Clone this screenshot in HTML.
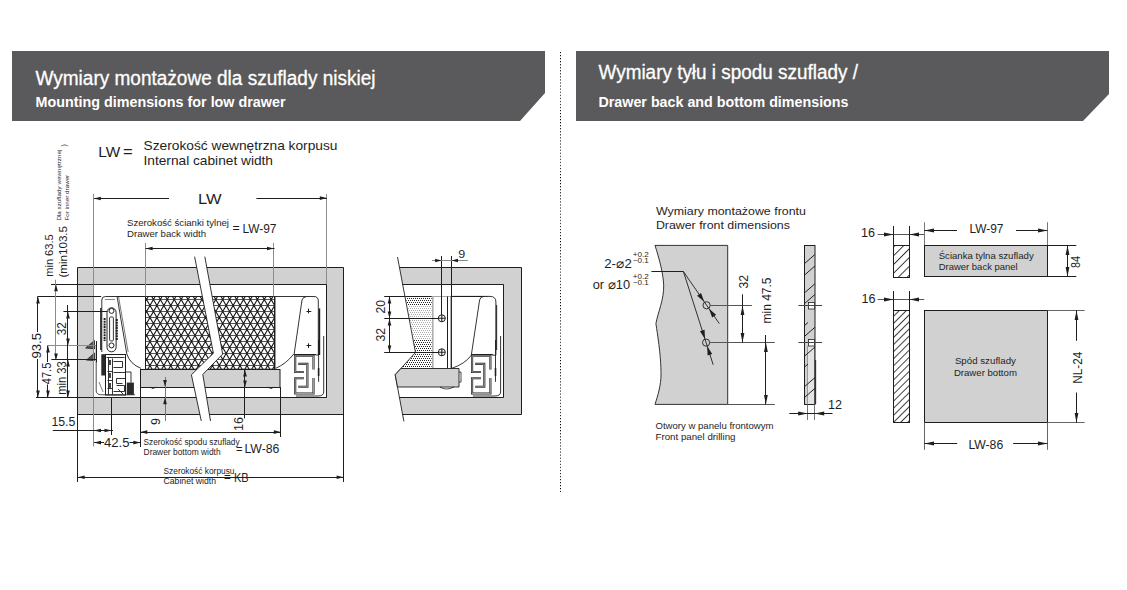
<!DOCTYPE html>
<html><head><meta charset="utf-8"><style>
html,body{margin:0;padding:0;background:#fff;width:1127px;height:590px;overflow:hidden}
svg{display:block;font-family:"Liberation Sans",sans-serif}
</style></head><body>
<svg width="1127" height="590" viewBox="0 0 1127 590">
<defs>
<pattern id="mesh" patternUnits="userSpaceOnUse" width="6.93" height="12" x="146" y="299.5">
<path d="M-1,0 H8 M-1,6 H8 M-1,12 H8 M0,0 L6.93,12 M6.93,0 L0,12 M-0.6,-1.04 L0.6,1.04 M6.33,10.96 L7.53,13.04 M7.53,-1.04 L6.33,1.04 M0.6,10.96 L-0.6,13.04" stroke="#1a1a1a" stroke-width="1" fill="none"/>
</pattern>
<pattern id="hatch" patternUnits="userSpaceOnUse" width="5" height="10" patternTransform="rotate(45)">
<rect width="5" height="10" fill="#fff"/><line x1="0.5" y1="0" x2="0.5" y2="10" stroke="#222" stroke-width="0.85"/>
</pattern>
<pattern id="hatch2" patternUnits="userSpaceOnUse" width="6.2" height="10" patternTransform="rotate(45)">
<rect width="6.2" height="10" fill="#fff"/><line x1="0.5" y1="0" x2="0.5" y2="10" stroke="#222" stroke-width="0.9"/>
</pattern>
</defs>
<polygon points="12,51 545,51 545,93 520,121 12,121" fill="#5a5a5c" stroke="none" stroke-width="0"/>
<polygon points="576,51 1109,51 1109,94 1083,121 576,121" fill="#5a5a5c" stroke="none" stroke-width="0"/>
<text x="35.5" y="84.5" font-size="20" text-anchor="start" fill="#fff" font-weight="normal" textLength="340" lengthAdjust="spacingAndGlyphs" stroke="#fff" stroke-width="0.3">Wymiary montażowe dla szuflady niskiej</text>
<text x="35.5" y="106.5" font-size="15" text-anchor="start" fill="#fff" font-weight="bold" textLength="250" lengthAdjust="spacingAndGlyphs">Mounting dimensions for low drawer</text>
<text x="598.5" y="79" font-size="20" text-anchor="start" fill="#fff" font-weight="normal" textLength="259.5" lengthAdjust="spacingAndGlyphs" stroke="#fff" stroke-width="0.3">Wymiary tyłu i spodu szuflady /</text>
<text x="598.5" y="106.7" font-size="15" text-anchor="start" fill="#fff" font-weight="bold" textLength="250" lengthAdjust="spacingAndGlyphs">Drawer back and bottom dimensions</text>
<pattern id="sepdots" patternUnits="userSpaceOnUse" x="560" y="52" width="1" height="3.05"><rect width="1" height="1.05" fill="#000"/></pattern>
<rect x="560" y="52" width="1" height="440" fill="url(#sepdots)"/>
<text x="98.3" y="156.6" font-size="15.5" text-anchor="start" fill="#1e1e1e" font-weight="normal" textLength="21.9" lengthAdjust="spacingAndGlyphs">LW</text>
<text x="123" y="157.3" font-size="14.5" text-anchor="start" fill="#1e1e1e" font-weight="normal" textLength="9.7" lengthAdjust="spacingAndGlyphs">=</text>
<text x="143.5" y="150.4" font-size="13" text-anchor="start" fill="#1e1e1e" font-weight="normal" textLength="194" lengthAdjust="spacingAndGlyphs">Szerokość wewnętrzna korpusu</text>
<text x="143.5" y="164.6" font-size="13" text-anchor="start" fill="#1e1e1e" font-weight="normal" textLength="129.5" lengthAdjust="spacingAndGlyphs">Internal cabinet width</text>
<text x="52.8" y="276.8" font-size="10.8" text-anchor="start" fill="#1e1e1e" font-weight="normal" textLength="42.5" lengthAdjust="spacingAndGlyphs" transform="rotate(-90 52.8 276.8)">min 63.5</text>
<text x="66.5" y="277.5" font-size="10.8" text-anchor="start" fill="#1e1e1e" font-weight="normal" textLength="51.5" lengthAdjust="spacingAndGlyphs" transform="rotate(-90 66.5 277.5)">(min103.5</text>
<text x="61.2" y="220.6" font-size="5.2" text-anchor="start" fill="#1e1e1e" font-weight="normal" textLength="71" lengthAdjust="spacingAndGlyphs" transform="rotate(-90 61.2 220.6)">Dla szuflady wewnętrznej</text>
<text x="68.8" y="220.6" font-size="5.2" text-anchor="start" fill="#1e1e1e" font-weight="normal" textLength="45.8" lengthAdjust="spacingAndGlyphs" transform="rotate(-90 68.8 220.6)">For inner drawer</text>
<text x="66" y="146.5" font-size="7" text-anchor="start" fill="#1e1e1e" font-weight="normal" transform="rotate(-90 66 146.5)">)</text>
<path d="M77.5,267.5 H343.5 V414.5 H77.5 Z M93.5,284.5 V397.5 H326.5 V284.5 Z" fill="#d1d1d1" fill-rule="evenodd" stroke="#1e1e1e" stroke-width="1"/>
<clipPath id="meshclip"><rect x="145.5" y="296.5" width="129" height="72.7"/></clipPath>
<rect x="145.5" y="296.5" width="129" height="72.7" fill="#fff"/>
<path clip-path="url(#meshclip)" d="M145,293.50 H276 M145,299.50 H276 M145,305.50 H276 M145,311.50 H276 M145,317.50 H276 M145,323.50 H276 M145,329.50 H276 M145,335.50 H276 M145,341.50 H276 M145,347.50 H276 M145,353.50 H276 M145,359.50 H276 M145,365.50 H276 M145,371.50 H276 M145,377.50 H276" stroke="#555" stroke-width="1" fill="none"/>
<path clip-path="url(#meshclip)" d="M2.45,290 L51.53,375 M13.42,290 L-35.65,375 M9.38,290 L58.45,375 M20.35,290 L-28.73,375 M16.31,290 L65.38,375 M27.28,290 L-21.80,375 M23.24,290 L72.31,375 M34.21,290 L-14.87,375 M30.16,290 L79.24,375 M41.13,290 L-7.94,375 M37.09,290 L86.17,375 M48.06,290 L-1.01,375 M44.02,290 L93.10,375 M54.99,290 L5.92,375 M50.95,290 L100.02,375 M61.92,290 L12.84,375 M57.88,290 L106.95,375 M68.85,290 L19.77,375 M64.80,290 L113.88,375 M75.77,290 L26.70,375 M71.73,290 L120.81,375 M82.70,290 L33.63,375 M78.66,290 L127.74,375 M89.63,290 L40.56,375 M85.59,290 L134.66,375 M96.56,290 L47.48,375 M92.52,290 L141.59,375 M103.49,290 L54.41,375 M99.45,290 L148.52,375 M110.42,290 L61.34,375 M106.37,290 L155.45,375 M117.34,290 L68.27,375 M113.30,290 L162.38,375 M124.27,290 L75.20,375 M120.23,290 L169.31,375 M131.20,290 L82.13,375 M127.16,290 L176.23,375 M138.13,290 L89.05,375 M134.09,290 L183.16,375 M145.06,290 L95.98,375 M141.02,290 L190.09,375 M151.98,290 L102.91,375 M147.94,290 L197.02,375 M158.91,290 L109.84,375 M154.87,290 L203.95,375 M165.84,290 L116.77,375 M161.80,290 L210.87,375 M172.77,290 L123.69,375 M168.73,290 L217.80,375 M179.70,290 L130.62,375 M175.66,290 L224.73,375 M186.63,290 L137.55,375 M182.58,290 L231.66,375 M193.55,290 L144.48,375 M189.51,290 L238.59,375 M200.48,290 L151.41,375 M196.44,290 L245.52,375 M207.41,290 L158.34,375 M203.37,290 L252.44,375 M214.34,290 L165.26,375 M210.30,290 L259.37,375 M221.27,290 L172.19,375 M217.23,290 L266.30,375 M228.20,290 L179.12,375 M224.15,290 L273.23,375 M235.12,290 L186.05,375 M231.08,290 L280.16,375 M242.05,290 L192.98,375 M238.01,290 L287.08,375 M248.98,290 L199.90,375 M244.94,290 L294.01,375 M255.91,290 L206.83,375 M251.87,290 L300.94,375 M262.84,290 L213.76,375 M258.79,290 L307.87,375 M269.76,290 L220.69,375 M265.72,290 L314.80,375 M276.69,290 L227.62,375 M272.65,290 L321.73,375 M283.62,290 L234.55,375 M279.58,290 L328.65,375 M290.55,290 L241.47,375 M286.51,290 L335.58,375 M297.48,290 L248.40,375 M293.44,290 L342.51,375 M304.41,290 L255.33,375 M300.36,290 L349.44,375 M311.33,290 L262.26,375 M307.29,290 L356.37,375 M318.26,290 L269.19,375 M314.22,290 L363.30,375 M325.19,290 L276.12,375 M321.15,290 L370.22,375 M332.12,290 L283.04,375 M328.08,290 L377.15,375 M339.05,290 L289.97,375 M335.00,290 L384.08,375 M345.97,290 L296.90,375 M341.93,290 L391.01,375 M352.90,290 L303.83,375 M348.86,290 L397.94,375 M359.83,290 L310.76,375 M355.79,290 L404.86,375 M366.76,290 L317.68,375 M362.72,290 L411.79,375 M373.69,290 L324.61,375 M369.65,290 L418.72,375 M380.62,290 L331.54,375 M376.57,290 L425.65,375 M387.54,290 L338.47,375 M383.50,290 L432.58,375 M394.47,290 L345.40,375 M390.43,290 L439.51,375 M401.40,290 L352.33,375 M397.36,290 L446.43,375 M408.33,290 L359.25,375 M404.29,290 L453.36,375 M415.26,290 L366.18,375 M411.22,290 L460.29,375 M422.18,290 L373.11,375" stroke="#1a1a1a" stroke-width="1.1" fill="none"/>
<rect x="145.5" y="296.5" width="129" height="72.7" fill="none" stroke="#1e1e1e" stroke-width="1"/>
<line x1="275.5" y1="297" x2="275.5" y2="368" stroke="#999" stroke-width="1"/>
<rect x="140.5" y="369.5" width="139.5" height="18" fill="#d1d1d1" stroke="#1e1e1e" stroke-width="1"/>
<path d="M150,387.1 q3,3 6,0 M268,387.1 q3,3 6,0" stroke="#1e1e1e" stroke-width="0.8" fill="none"/>
<path d="M274.5,296.5 H314 Q318.3,296.5 318.3,301 V355 H294 L302,300 Q303,296.8 306,296.8" fill="#fff" stroke="#1e1e1e" stroke-width="0.9"/>
<path d="M319.4,308.4 V355" stroke="#1e1e1e" stroke-width="1.6"/>
<path d="M275.3,368.5 Q286,364 293.6,354.2" stroke="#1e1e1e" stroke-width="0.9" fill="none"/>
<line x1="306.5" y1="311.5" x2="311.3" y2="311.5" stroke="#1e1e1e" stroke-width="1"/>
<line x1="308.5" y1="308.6" x2="308.5" y2="313.4" stroke="#1e1e1e" stroke-width="1"/>
<line x1="306.5" y1="345.5" x2="311.3" y2="345.5" stroke="#1e1e1e" stroke-width="1"/>
<line x1="308.5" y1="343.3" x2="308.5" y2="348.09999999999997" stroke="#1e1e1e" stroke-width="1"/>
<g transform="translate(0,0)">
<rect x="294.2" y="354.3" width="21.3" height="41" fill="#fff" stroke="none"/>
<line x1="294.2" y1="354.5" x2="316" y2="354.5" stroke="#1e1e1e" stroke-width="1"/>
<path d="M304,372 H295.2 V355.8 H313.5 V369.5 M313.5,378 V393.5 H295.2 V378.2 H304" stroke="#1e1e1e" stroke-width="2.1" fill="none"/>
<path d="M304,372 H295.2 V355.8 H313.5 V369.5 M313.5,378 V393.5 H295.2 V378.2 H304" stroke="#bbb" stroke-width="0.8" fill="none"/>
<path d="M298.2,363.9 H307.4 V386.8 H298.2" stroke="#1e1e1e" stroke-width="2.1" fill="none"/>
<path d="M298.2,363.9 H307.4 V386.8 H298.2" stroke="#bbb" stroke-width="0.8" fill="none"/>
<path d="M318.6,340 V381.8 M323.7,336 V392 Q323.7,396 318,396 H296" stroke="#1e1e1e" stroke-width="0.9" fill="none"/>
<path d="M317.8,368 l1.6,0 v8 h-1.6z" fill="#222"/>
</g>
<line x1="326.5" y1="284.2" x2="326.5" y2="397.3" stroke="#1e1e1e" stroke-width="1"/>
<path d="M101.8,352 V300 Q101.8,296.5 105.5,296.5 H117.1 L126.8,354 Q130,364 141,368.4" fill="#fff" stroke="#1e1e1e" stroke-width="0.9"/>
<path d="M118.6,297 L128.2,352" stroke="#444" stroke-width="0.7" fill="none"/>
<line x1="105" y1="299.5" x2="115" y2="299.5" stroke="#888" stroke-width="1"/>
<line x1="117.1" y1="296.5" x2="145.8" y2="296.5" stroke="#1e1e1e" stroke-width="1"/>
<line x1="100.9" y1="308" x2="100.9" y2="350" stroke="#1e1e1e" stroke-width="1.5"/>
<rect x="107" y="307.8" width="9.1" height="44" rx="4.5" fill="#fff" stroke="#1e1e1e" stroke-width="1"/>
<circle cx="111.5" cy="310.9" r="2.5" fill="#fff" stroke="#1e1e1e" stroke-width="1"/>
<circle cx="111.5" cy="345.4" r="2.5" fill="#fff" stroke="#1e1e1e" stroke-width="1"/>
<rect x="109.6" y="317" width="3.8" height="23.9" rx="1" fill="#fff" stroke="#1e1e1e" stroke-width="0.9"/>
<path d="M104.6,318 V341 M116.8,319 V340" stroke="#222" stroke-width="2" stroke-dasharray="2 0.7"/>
<path d="M101.3,354.2 H107.4 V375.5 H101.3 Z" fill="#2a2a2a"/>
<rect x="105.5" y="354.5" width="20" height="40.5" fill="#fff" stroke="#1e1e1e" stroke-width="1"/>
<path d="M106.5,357.5 H124.5 M108.5,357.5 V394.5 M112.5,358.5 V394.5 M113.5,361.5 H122.5 V367.5 H113.5 M113.5,372.5 H125.5 V378.5 H116.5 V383.5 H122.5 M116.5,385.5 H124.5 V391.5 H113.5 M107.5,371.5 H112.5 M107.5,380.5 H112.5 M107.5,388.5 H112.5" stroke="#1e1e1e" stroke-width="0.9" fill="none"/>
<path d="M109,360 h2 v5 h-2z M109,373 h2 v5 h-2z M109,383 h2 v5 h-2z" fill="#444"/>
<rect x="126.8" y="382.6" width="7.1" height="12.2" fill="#2a2a2a"/>
<path d="M125.7,372 H131 V382.6 M118,389 L123,394" stroke="#1e1e1e" stroke-width="0.9" fill="none"/>
<path d="M96.2,346 V391 Q96.5,394.8 101.3,394.8 H135" stroke="#1e1e1e" stroke-width="0.8" fill="none"/>
<path d="M99,382 L103,392" stroke="#444" stroke-width="0.7" fill="none"/>
<path d="M85.6,348 L94.5,340.5 V348.8 Z M86.5,360 L94.5,353 V360.6 Z" fill="#555" stroke="#1e1e1e" stroke-width="0.8"/>
<line x1="96.5" y1="341" x2="96.5" y2="362.4" stroke="#1e1e1e" stroke-width="1"/>
<polygon points="194.6,256.6 213.4,353.2 191.4,374.8 201.3,421 210.5,421 202.8,374.4 222.7,354.1 204.8,256.6" fill="#fff" stroke="none"/>
<polyline points="194.6,256.6 213.4,353.2 191.4,374.8 201.3,421" fill="none" stroke="#1e1e1e" stroke-width="0.9"/>
<polyline points="204.8,256.6 222.7,354.1 202.8,374.4 210.5,421" fill="none" stroke="#1e1e1e" stroke-width="0.9"/>
<line x1="93.5" y1="194" x2="93.5" y2="446.5" stroke="#8c8c8c" stroke-width="1"/>
<line x1="326.5" y1="194" x2="326.5" y2="284.2" stroke="#8c8c8c" stroke-width="1"/>
<line x1="94" y1="198.5" x2="169" y2="198.5" stroke="#1e1e1e" stroke-width="1"/>
<line x1="256.4" y1="198.5" x2="326.8" y2="198.5" stroke="#1e1e1e" stroke-width="1"/>
<polygon points="93.80,198.50 100.80,196.70 100.80,200.30" fill="#1e1e1e"/>
<polygon points="326.80,198.10 319.80,199.90 319.80,196.30" fill="#1e1e1e"/>
<text x="198" y="204.4" font-size="14.5" text-anchor="start" fill="#1e1e1e" font-weight="normal" textLength="23.5" lengthAdjust="spacingAndGlyphs">LW</text>
<text x="127" y="226" font-size="9.6" text-anchor="start" fill="#1e1e1e" font-weight="normal" textLength="102" lengthAdjust="spacingAndGlyphs">Szerokość ścianki tylnej</text>
<text x="127" y="237.3" font-size="9.6" text-anchor="start" fill="#1e1e1e" font-weight="normal" textLength="79" lengthAdjust="spacingAndGlyphs">Drawer back width</text>
<text x="232.6" y="231.6" font-size="11" text-anchor="start" fill="#1e1e1e" font-weight="normal" textLength="7.2" lengthAdjust="spacingAndGlyphs">=</text>
<text x="242.5" y="232.6" font-size="12.5" text-anchor="start" fill="#1e1e1e" font-weight="normal" textLength="34" lengthAdjust="spacingAndGlyphs">LW-97</text>
<line x1="145.5" y1="243" x2="145.5" y2="296.4" stroke="#8c8c8c" stroke-width="1"/>
<line x1="273.5" y1="243" x2="273.5" y2="296.4" stroke="#8c8c8c" stroke-width="1"/>
<line x1="145.6" y1="248.5" x2="274.5" y2="248.5" stroke="#1e1e1e" stroke-width="1"/>
<polygon points="145.60,248.50 152.60,246.70 152.60,250.30" fill="#1e1e1e"/>
<polygon points="274.00,248.50 267.00,250.30 267.00,246.70" fill="#1e1e1e"/>
<line x1="51" y1="284.5" x2="93.5" y2="284.5" stroke="#1e1e1e" stroke-width="1"/>
<line x1="38" y1="296.5" x2="101.2" y2="296.5" stroke="#1e1e1e" stroke-width="1"/>
<line x1="63.4" y1="311.5" x2="107.3" y2="311.5" stroke="#1e1e1e" stroke-width="1"/>
<line x1="47.5" y1="345.5" x2="96" y2="345.5" stroke="#8c8c8c" stroke-width="1"/>
<line x1="51.3" y1="359.5" x2="96" y2="359.5" stroke="#1e1e1e" stroke-width="1"/>
<line x1="36" y1="397.5" x2="93.5" y2="397.5" stroke="#1e1e1e" stroke-width="1"/>
<line x1="37.5" y1="296.3" x2="37.5" y2="332" stroke="#1e1e1e" stroke-width="1"/>
<line x1="37.5" y1="359" x2="37.5" y2="397.2" stroke="#1e1e1e" stroke-width="1"/>
<polygon points="38.00,296.50 39.80,303.50 36.20,303.50" fill="#1e1e1e"/>
<polygon points="38.00,397.50 36.20,390.50 39.80,390.50" fill="#1e1e1e"/>
<text x="41.4" y="358.5" font-size="12.5" text-anchor="start" fill="#1e1e1e" font-weight="normal" textLength="25.5" lengthAdjust="spacingAndGlyphs" transform="rotate(-90 41.4 358.5)">93.5</text>
<line x1="47.5" y1="345.7" x2="47.5" y2="362" stroke="#1e1e1e" stroke-width="1"/>
<line x1="47.5" y1="384.5" x2="47.5" y2="397.2" stroke="#1e1e1e" stroke-width="1"/>
<polygon points="48.00,345.50 49.80,352.50 46.20,352.50" fill="#1e1e1e"/>
<polygon points="48.00,397.50 46.20,390.50 49.80,390.50" fill="#1e1e1e"/>
<text x="51.3" y="384.2" font-size="12.5" text-anchor="start" fill="#1e1e1e" font-weight="normal" textLength="21.5" lengthAdjust="spacingAndGlyphs" transform="rotate(-90 51.3 384.2)">47.5</text>
<line x1="55.5" y1="279.7" x2="55.5" y2="359" stroke="#8c8c8c" stroke-width="1"/>
<polygon points="56.00,284.30 57.80,291.30 54.20,291.30" fill="#1e1e1e"/>
<polygon points="56.00,360.50 54.20,353.50 57.80,353.50" fill="#1e1e1e"/>
<line x1="67.5" y1="305" x2="67.5" y2="397.2" stroke="#1e1e1e" stroke-width="1"/>
<polygon points="68.00,311.50 69.80,318.50 66.20,318.50" fill="#1e1e1e"/>
<polygon points="68.00,345.50 66.20,338.50 69.80,338.50" fill="#1e1e1e"/>
<polygon points="68.00,359.50 69.80,366.50 66.20,366.50" fill="#1e1e1e"/>
<polygon points="68.00,397.50 66.20,390.50 69.80,390.50" fill="#1e1e1e"/>
<text x="66.5" y="335.3" font-size="12.5" text-anchor="start" fill="#1e1e1e" font-weight="normal" textLength="13" lengthAdjust="spacingAndGlyphs" transform="rotate(-90 66.5 335.3)">32</text>
<text x="65.8" y="394.8" font-size="12.5" text-anchor="start" fill="#1e1e1e" font-weight="normal" textLength="33.5" lengthAdjust="spacingAndGlyphs" transform="rotate(-90 65.8 394.8)">min 33</text>
<line x1="77.5" y1="413.6" x2="77.5" y2="482" stroke="#1e1e1e" stroke-width="1"/>
<line x1="343.5" y1="413.6" x2="343.5" y2="482" stroke="#1e1e1e" stroke-width="1"/>
<line x1="111.5" y1="397.2" x2="111.5" y2="435" stroke="#1e1e1e" stroke-width="1"/>
<line x1="140.5" y1="387.1" x2="140.5" y2="447" stroke="#1e1e1e" stroke-width="1"/>
<line x1="280.5" y1="387.1" x2="280.5" y2="437" stroke="#1e1e1e" stroke-width="1"/>
<line x1="165.5" y1="377" x2="165.5" y2="421" stroke="#777" stroke-width="1"/>
<polygon points="165.00,387.10 163.20,380.10 166.80,380.10" fill="#1e1e1e"/>
<polygon points="165.00,397.20 166.80,404.20 163.20,404.20" fill="#1e1e1e"/>
<line x1="244.5" y1="369.5" x2="244.5" y2="418.4" stroke="#1e1e1e" stroke-width="1"/>
<polygon points="245.00,369.50 246.80,376.50 243.20,376.50" fill="#1e1e1e"/>
<polygon points="245.00,387.50 243.20,380.50 246.80,380.50" fill="#1e1e1e"/>
<text x="160" y="425" font-size="12.5" text-anchor="start" fill="#1e1e1e" font-weight="normal" transform="rotate(-90 160 425)">9</text>
<text x="242.8" y="431" font-size="12.5" text-anchor="start" fill="#1e1e1e" font-weight="normal" textLength="14" lengthAdjust="spacingAndGlyphs" transform="rotate(-90 242.8 431)">16</text>
<text x="51.4" y="426.4" font-size="12.5" text-anchor="start" fill="#1e1e1e" font-weight="normal" textLength="24" lengthAdjust="spacingAndGlyphs">15.5</text>
<line x1="52.8" y1="430.5" x2="113" y2="430.5" stroke="#1e1e1e" stroke-width="1"/>
<polygon points="94.00,430.50 101.00,428.70 101.00,432.30" fill="#1e1e1e"/>
<polygon points="111.50,430.50 104.50,432.30 104.50,428.70" fill="#1e1e1e"/>
<line x1="94" y1="442.5" x2="104" y2="442.5" stroke="#1e1e1e" stroke-width="1"/>
<line x1="129.5" y1="442.5" x2="140.3" y2="442.5" stroke="#1e1e1e" stroke-width="1"/>
<polygon points="94.00,442.60 101.00,440.80 101.00,444.40" fill="#1e1e1e"/>
<polygon points="140.30,442.60 133.30,444.40 133.30,440.80" fill="#1e1e1e"/>
<text x="104" y="446.5" font-size="12.5" text-anchor="start" fill="#1e1e1e" font-weight="normal" textLength="25.5" lengthAdjust="spacingAndGlyphs">42.5</text>
<line x1="140.3" y1="432.5" x2="280.8" y2="432.5" stroke="#1e1e1e" stroke-width="1"/>
<polygon points="140.30,432.10 147.30,430.30 147.30,433.90" fill="#1e1e1e"/>
<polygon points="280.80,432.10 273.80,433.90 273.80,430.30" fill="#1e1e1e"/>
<text x="143.6" y="445.4" font-size="9.6" text-anchor="start" fill="#1e1e1e" font-weight="normal" textLength="96" lengthAdjust="spacingAndGlyphs">Szerokość spodu szuflady</text>
<text x="143.6" y="454.5" font-size="9.6" text-anchor="start" fill="#1e1e1e" font-weight="normal" textLength="77" lengthAdjust="spacingAndGlyphs">Drawer bottom width</text>
<text x="236" y="452.5" font-size="11" text-anchor="start" fill="#1e1e1e" font-weight="normal" textLength="6.5" lengthAdjust="spacingAndGlyphs">=</text>
<text x="244.4" y="453.1" font-size="12.5" text-anchor="start" fill="#1e1e1e" font-weight="normal" textLength="35" lengthAdjust="spacingAndGlyphs">LW-86</text>
<line x1="77.7" y1="477.5" x2="343.6" y2="477.5" stroke="#1e1e1e" stroke-width="1"/>
<polygon points="77.70,477.20 84.70,475.40 84.70,479.00" fill="#1e1e1e"/>
<polygon points="343.60,477.20 336.60,479.00 336.60,475.40" fill="#1e1e1e"/>
<text x="163.5" y="474.4" font-size="9.6" text-anchor="start" fill="#1e1e1e" font-weight="normal" textLength="71" lengthAdjust="spacingAndGlyphs">Szerokość korpusu</text>
<text x="163.5" y="483.8" font-size="9.6" text-anchor="start" fill="#1e1e1e" font-weight="normal" textLength="52.5" lengthAdjust="spacingAndGlyphs">Cabinet width</text>
<text x="224" y="481.2" font-size="11" text-anchor="start" fill="#1e1e1e" font-weight="normal" textLength="6.8" lengthAdjust="spacingAndGlyphs">=</text>
<text x="234" y="481.8" font-size="12.5" text-anchor="start" fill="#1e1e1e" font-weight="normal" textLength="14.7" lengthAdjust="spacingAndGlyphs">KB</text>
<path d="M399.4,267.5 H521.5 V414.5 H402.6 L395.2,374.7 L415.5,352.5 Z M402.6,284.5 L415.5,352.5 L395.2,374.7 L399.45,397.5 H503.5 V284.5 Z" fill="#d1d1d1" fill-rule="evenodd" stroke="none"/>
<path d="M399.4,267.5 H521.5 V414.5 H402.6 M402.6,284.5 H503.5 V397.5 H399.45" stroke="#1e1e1e" stroke-width="1" fill="none"/>
<polyline points="397.5,257 415.5,352.5 395.2,374.7 403.9,421.4" fill="none" stroke="#1e1e1e" stroke-width="0.9"/>
<pattern id="dotsD" patternUnits="userSpaceOnUse" width="2" height="4"><rect x="0" y="0" width="1" height="1" fill="#222"/><rect x="1" y="2" width="1" height="1" fill="#222"/></pattern>
<pattern id="dotsL" patternUnits="userSpaceOnUse" width="2" height="4"><rect x="0" y="0" width="1" height="1" fill="#aaa"/><rect x="1" y="2" width="1" height="1" fill="#aaa"/></pattern>
<clipPath id="dotclip"><polygon points="405.8,296.7 432.2,296.7 432.2,368.5 400.9,368.5 415.7,352.5"/></clipPath>
<g clip-path="url(#dotclip)"><rect x="395" y="296" width="40" height="9" fill="url(#dotsD)"/><rect x="395" y="305" width="40" height="35" fill="url(#dotsL)"/><rect x="395" y="340" width="40" height="29" fill="url(#dotsD)"/></g>
<line x1="405.8" y1="296.5" x2="488" y2="296.5" stroke="#1e1e1e" stroke-width="1"/>
<rect x="431.6" y="296.4" width="19.7" height="72.1" fill="#fff" stroke="none"/>
<line x1="432.8" y1="296.4" x2="432.8" y2="368.5" stroke="#aaa" stroke-width="1.5"/>
<line x1="447.5" y1="296.4" x2="447.5" y2="368.5" stroke="#1e1e1e" stroke-width="1"/>
<line x1="451.3" y1="296.4" x2="451.3" y2="368.5" stroke="#1e1e1e" stroke-width="1.3"/>
<polygon points="400.9,368.5 459,368.5 459,387 397.5,387 395.2,374.7" fill="#d1d1d1" stroke="#1e1e1e" stroke-width="0.9"/>
<path d="M459,372 h2 v10 h-2 M440,387 q6,4 14,0" stroke="#1e1e1e" stroke-width="0.8" fill="none"/>
<path d="M451.3,296.4 H490 Q495.9,296.4 495.9,302 V355.2 H471.3 L479.6,300 Q480.5,296.4 484,296.4" fill="#fff" stroke="#1e1e1e" stroke-width="0.9"/>
<path d="M451.3,368.5 Q465,364 471.3,355.2" stroke="#1e1e1e" stroke-width="0.9" fill="none"/>
<line x1="496.5" y1="305" x2="496.5" y2="350" stroke="#333" stroke-width="1.3"/>
<g transform="translate(176.9,0)">
<rect x="294.2" y="354.3" width="21.3" height="41" fill="#fff" stroke="none"/>
<line x1="294.2" y1="354.5" x2="316" y2="354.5" stroke="#1e1e1e" stroke-width="1"/>
<path d="M304,372 H295.2 V355.8 H313.5 V369.5 M313.5,378 V393.5 H295.2 V378.2 H304" stroke="#1e1e1e" stroke-width="2.1" fill="none"/>
<path d="M304,372 H295.2 V355.8 H313.5 V369.5 M313.5,378 V393.5 H295.2 V378.2 H304" stroke="#bbb" stroke-width="0.8" fill="none"/>
<path d="M298.2,363.9 H307.4 V386.8 H298.2" stroke="#1e1e1e" stroke-width="2.1" fill="none"/>
<path d="M298.2,363.9 H307.4 V386.8 H298.2" stroke="#bbb" stroke-width="0.8" fill="none"/>
<path d="M318.6,340 V381.8 M323.7,336 V392 Q323.7,396 318,396 H296" stroke="#1e1e1e" stroke-width="0.9" fill="none"/>
<path d="M317.8,368 l1.6,0 v8 h-1.6z" fill="#222"/>
</g>
<circle cx="441.8" cy="318.3" r="3.5" fill="#fff" stroke="#1e1e1e" stroke-width="1"/>
<path d="M438.3,318.3 H445.3 M441.8,314.8 V321.8" stroke="#1e1e1e" stroke-width="1.1"/>
<circle cx="441.8" cy="352.3" r="3.5" fill="#fff" stroke="#1e1e1e" stroke-width="1"/>
<path d="M438.3,352.3 H445.3 M441.8,348.8 V355.8" stroke="#1e1e1e" stroke-width="1.1"/>
<line x1="441.5" y1="256" x2="441.5" y2="314.8" stroke="#1e1e1e" stroke-width="1"/>
<line x1="451.5" y1="256" x2="451.5" y2="296.4" stroke="#1e1e1e" stroke-width="1"/>
<line x1="432" y1="260.5" x2="467.9" y2="260.5" stroke="#888" stroke-width="1"/>
<polygon points="441.60,260.50 435.10,262.20 435.10,258.80" fill="#1e1e1e"/>
<polygon points="451.50,260.50 458.00,258.80 458.00,262.20" fill="#1e1e1e"/>
<text x="458.3" y="258" font-size="11.5" text-anchor="start" fill="#1e1e1e" font-weight="normal" textLength="7" lengthAdjust="spacingAndGlyphs">9</text>
<line x1="384.2" y1="296.5" x2="405.8" y2="296.5" stroke="#1e1e1e" stroke-width="1"/>
<line x1="384.2" y1="318.5" x2="438.5" y2="318.5" stroke="#1e1e1e" stroke-width="1"/>
<line x1="384.2" y1="352.5" x2="438.5" y2="352.5" stroke="#1e1e1e" stroke-width="1"/>
<line x1="389.5" y1="296.4" x2="389.5" y2="352.3" stroke="#1e1e1e" stroke-width="1"/>
<polygon points="389.50,296.50 391.30,303.50 387.70,303.50" fill="#1e1e1e"/>
<polygon points="389.50,318.50 387.70,311.50 391.30,311.50" fill="#1e1e1e"/>
<polygon points="389.50,318.50 391.30,325.50 387.70,325.50" fill="#1e1e1e"/>
<polygon points="389.50,352.50 387.70,345.50 391.30,345.50" fill="#1e1e1e"/>
<text x="384.8" y="313.5" font-size="12.5" text-anchor="start" fill="#1e1e1e" font-weight="normal" textLength="13.5" lengthAdjust="spacingAndGlyphs" transform="rotate(-90 384.8 313.5)">20</text>
<text x="384.8" y="341.5" font-size="12.5" text-anchor="start" fill="#1e1e1e" font-weight="normal" textLength="13.5" lengthAdjust="spacingAndGlyphs" transform="rotate(-90 384.8 341.5)">32</text>
<text x="655.9" y="214.9" font-size="11" text-anchor="start" fill="#1e1e1e" font-weight="normal" textLength="150" lengthAdjust="spacingAndGlyphs">Wymiary montażowe frontu</text>
<text x="655.9" y="228.8" font-size="11" text-anchor="start" fill="#1e1e1e" font-weight="normal" textLength="134" lengthAdjust="spacingAndGlyphs">Drawer front dimensions</text>
<path d="M655,245.4 H727.7 V404.4 H655 C658,395 661,385 661,375 C661,362 660,350 655.9,323.6 C658,312 664,300 663.7,285 C663,272 659,258 655,245.4 Z" fill="#d1d1d1" stroke="#1e1e1e" stroke-width="0.9"/>
<text x="604.2" y="267.6" font-size="12.5" text-anchor="start" fill="#1e1e1e" font-weight="normal" textLength="27.6" lengthAdjust="spacingAndGlyphs">2-⌀2</text>
<text x="632.7" y="256.6" font-size="7" text-anchor="start" fill="#1e1e1e" font-weight="normal" textLength="16" lengthAdjust="spacingAndGlyphs">+0.2</text>
<text x="632.7" y="262.8" font-size="7" text-anchor="start" fill="#1e1e1e" font-weight="normal" textLength="16" lengthAdjust="spacingAndGlyphs">−0.1</text>
<text x="592.7" y="289.3" font-size="12.5" text-anchor="start" fill="#1e1e1e" font-weight="normal" textLength="37.4" lengthAdjust="spacingAndGlyphs">or  ⌀10</text>
<text x="632.7" y="278.8" font-size="7" text-anchor="start" fill="#1e1e1e" font-weight="normal" textLength="16" lengthAdjust="spacingAndGlyphs">+0.2</text>
<text x="632.7" y="285" font-size="7" text-anchor="start" fill="#1e1e1e" font-weight="normal" textLength="16" lengthAdjust="spacingAndGlyphs">−0.1</text>
<line x1="651.4" y1="271.5" x2="683.4" y2="271.5" stroke="#1e1e1e" stroke-width="1"/>
<line x1="683.4" y1="271.5" x2="719.3" y2="323.6" stroke="#1e1e1e" stroke-width="0.9"/>
<line x1="683.4" y1="271.5" x2="713.2" y2="364.8" stroke="#1e1e1e" stroke-width="0.9"/>
<circle cx="706.6" cy="305.3" r="3.6" fill="none" stroke="#1e1e1e" stroke-width="0.9"/>
<circle cx="706.1" cy="342.6" r="3.6" fill="none" stroke="#1e1e1e" stroke-width="0.9"/>
<polygon points="704.20,301.80 697.10,295.77 701.05,293.03" fill="#1e1e1e"/>
<polygon points="709.00,308.80 716.10,314.83 712.15,317.57" fill="#1e1e1e"/>
<polygon points="705.00,339.00 699.98,331.16 704.55,329.70" fill="#1e1e1e"/>
<polygon points="707.20,346.20 712.22,354.04 707.65,355.50" fill="#1e1e1e"/>
<line x1="710" y1="305.5" x2="751.9" y2="305.5" stroke="#555" stroke-width="1"/>
<line x1="710" y1="342.5" x2="774.8" y2="342.5" stroke="#555" stroke-width="1"/>
<line x1="727.7" y1="404.5" x2="774.8" y2="404.5" stroke="#555" stroke-width="1"/>
<line x1="742.5" y1="294.3" x2="742.5" y2="342.6" stroke="#1e1e1e" stroke-width="1"/>
<polygon points="742.50,305.50 744.40,315.00 740.60,315.00" fill="#1e1e1e"/>
<polygon points="742.50,342.50 740.60,333.00 744.40,333.00" fill="#1e1e1e"/>
<text x="748" y="288.5" font-size="12.5" text-anchor="start" fill="#1e1e1e" font-weight="normal" textLength="13.5" lengthAdjust="spacingAndGlyphs" transform="rotate(-90 748 288.5)">32</text>
<line x1="765.5" y1="335" x2="765.5" y2="404.4" stroke="#1e1e1e" stroke-width="1"/>
<polygon points="765.90,342.50 767.80,352.00 764.00,352.00" fill="#1e1e1e"/>
<polygon points="765.90,404.50 764.00,395.00 767.80,395.00" fill="#1e1e1e"/>
<text x="770.5" y="323.5" font-size="12.5" text-anchor="start" fill="#1e1e1e" font-weight="normal" textLength="46" lengthAdjust="spacingAndGlyphs" transform="rotate(-90 770.5 323.5)">min 47.5</text>
<text x="655.5" y="428.5" font-size="9.6" text-anchor="start" fill="#1e1e1e" font-weight="normal" textLength="118" lengthAdjust="spacingAndGlyphs">Otwory w panelu frontowym</text>
<text x="655.5" y="439.5" font-size="9.6" text-anchor="start" fill="#1e1e1e" font-weight="normal" textLength="80" lengthAdjust="spacingAndGlyphs">Front panel drilling</text>
<rect x="804.5" y="245.5" width="10.5" height="159" fill="#d1d1d1" stroke="none"/>
<rect x="808" y="346" width="6" height="58" fill="#e4e4e4" stroke="none"/>
<line x1="807.5" y1="346" x2="807.5" y2="404" stroke="#999" stroke-width="1"/>
<line x1="814.5" y1="346" x2="814.5" y2="404" stroke="#999" stroke-width="1"/>
<clipPath id="sec1"><rect x="804.5" y="245.5" width="10.5" height="159"/></clipPath>
<g clip-path="url(#sec1)" stroke="#222" stroke-width="1"><line x1="804" y1="264" x2="815.5" y2="254"/><line x1="804" y1="275.5" x2="815.5" y2="265.5"/><line x1="804" y1="293.3" x2="815.5" y2="283.3"/><line x1="804" y1="304" x2="815.5" y2="294"/><line x1="804" y1="336.8" x2="815.5" y2="326.8"/><line x1="804" y1="356.6" x2="815.5" y2="346.6"/><line x1="804" y1="387.1" x2="815.5" y2="377.1"/><line x1="804" y1="397.9" x2="815.5" y2="387.9"/><line x1="804" y1="326" x2="808" y2="322.5"/><line x1="804" y1="367.4" x2="808" y2="364"/></g>
<rect x="804.5" y="245.5" width="10.5" height="159" fill="none" stroke="#1e1e1e" stroke-width="1"/>
<line x1="815.5" y1="360" x2="815.5" y2="404" stroke="#333" stroke-width="1.3"/>
<rect x="808.5" y="302.5" width="6" height="6.5" fill="#fff" stroke="#1e1e1e" stroke-width="0.8"/>
<rect x="808.5" y="339.5" width="6" height="6.5" fill="#fff" stroke="#1e1e1e" stroke-width="0.8"/>
<line x1="807.5" y1="404.5" x2="807.5" y2="420" stroke="#777" stroke-width="1"/>
<line x1="814.5" y1="404.5" x2="814.5" y2="420" stroke="#777" stroke-width="1"/>
<line x1="798.4" y1="305.5" x2="822" y2="305.5" stroke="#444" stroke-width="1"/>
<line x1="798.4" y1="342.5" x2="822" y2="342.5" stroke="#444" stroke-width="1"/>
<line x1="789.3" y1="413.5" x2="832.5" y2="413.5" stroke="#1e1e1e" stroke-width="1"/>
<polygon points="807.60,413.50 798.10,415.40 798.10,411.60" fill="#1e1e1e"/>
<polygon points="814.70,413.50 824.20,411.60 824.20,415.40" fill="#1e1e1e"/>
<text x="828" y="408.5" font-size="12.5" text-anchor="start" fill="#1e1e1e" font-weight="normal" textLength="14" lengthAdjust="spacingAndGlyphs">12</text>
<rect x="893.5" y="245.5" width="16" height="32" fill="url(#hatch2)" stroke="#1e1e1e" stroke-width="1"/>
<rect x="924.5" y="245.5" width="123" height="31" fill="#d1d1d1" stroke="#1e1e1e" stroke-width="1"/>
<text x="861" y="237" font-size="12.5" text-anchor="start" fill="#1e1e1e" font-weight="normal" textLength="14" lengthAdjust="spacingAndGlyphs">16</text>
<line x1="877.7" y1="234.5" x2="924.3" y2="234.5" stroke="#555" stroke-width="1"/>
<polygon points="893.50,234.50 884.00,236.40 884.00,232.60" fill="#1e1e1e"/>
<polygon points="909.50,234.50 919.00,232.60 919.00,236.40" fill="#1e1e1e"/>
<line x1="893.5" y1="226" x2="893.5" y2="245" stroke="#1e1e1e" stroke-width="1"/>
<line x1="909.5" y1="226" x2="909.5" y2="245" stroke="#1e1e1e" stroke-width="1"/>
<line x1="924.5" y1="222.2" x2="924.5" y2="245" stroke="#777" stroke-width="1"/>
<line x1="1047.5" y1="222.2" x2="1047.5" y2="245" stroke="#777" stroke-width="1"/>
<line x1="924.3" y1="230.5" x2="957" y2="230.5" stroke="#1e1e1e" stroke-width="1"/>
<line x1="1016" y1="230.5" x2="1047.4" y2="230.5" stroke="#1e1e1e" stroke-width="1"/>
<polygon points="924.50,230.50 934.00,228.60 934.00,232.40" fill="#1e1e1e"/>
<polygon points="1047.50,230.50 1038.00,232.40 1038.00,228.60" fill="#1e1e1e"/>
<text x="986.4" y="232.8" font-size="12" text-anchor="middle" fill="#1e1e1e" font-weight="normal" textLength="34" lengthAdjust="spacingAndGlyphs">LW-97</text>
<text x="938.7" y="259.2" font-size="9.6" text-anchor="start" fill="#1e1e1e" font-weight="normal" textLength="95" lengthAdjust="spacingAndGlyphs">Ścianka tylna szuflady</text>
<text x="938.7" y="269.9" font-size="9.6" text-anchor="start" fill="#1e1e1e" font-weight="normal" textLength="79" lengthAdjust="spacingAndGlyphs">Drawer back panel</text>
<line x1="1047.4" y1="245.5" x2="1076.3" y2="245.5" stroke="#1e1e1e" stroke-width="1"/>
<line x1="1047.4" y1="276.5" x2="1076.3" y2="276.5" stroke="#1e1e1e" stroke-width="1"/>
<line x1="1067.5" y1="245" x2="1067.5" y2="276.5" stroke="#1e1e1e" stroke-width="1"/>
<polygon points="1067.50,245.50 1069.40,255.00 1065.60,255.00" fill="#1e1e1e"/>
<polygon points="1067.50,276.50 1065.60,267.00 1069.40,267.00" fill="#1e1e1e"/>
<text x="1080" y="262.1" font-size="12" text-anchor="middle" fill="#1e1e1e" font-weight="normal" textLength="12" lengthAdjust="spacingAndGlyphs" transform="rotate(-90 1080 262.1)">84</text>
<rect x="893.5" y="310.5" width="16" height="112" fill="url(#hatch)" stroke="#1e1e1e" stroke-width="1"/>
<rect x="924.5" y="310.5" width="123" height="112" fill="#d1d1d1" stroke="#1e1e1e" stroke-width="1"/>
<text x="861.5" y="303" font-size="12.5" text-anchor="start" fill="#1e1e1e" font-weight="normal" textLength="14" lengthAdjust="spacingAndGlyphs">16</text>
<line x1="877.7" y1="299.5" x2="924.3" y2="299.5" stroke="#555" stroke-width="1"/>
<polygon points="893.50,299.50 884.00,301.40 884.00,297.60" fill="#1e1e1e"/>
<polygon points="909.50,299.50 919.00,297.60 919.00,301.40" fill="#1e1e1e"/>
<line x1="893.5" y1="291" x2="893.5" y2="310.2" stroke="#1e1e1e" stroke-width="1"/>
<line x1="909.5" y1="291" x2="909.5" y2="310.2" stroke="#1e1e1e" stroke-width="1"/>
<text x="985.4" y="364.3" font-size="9.6" text-anchor="middle" fill="#1e1e1e" font-weight="normal" textLength="61" lengthAdjust="spacingAndGlyphs">Spód szuflady</text>
<text x="985.4" y="375.5" font-size="9.6" text-anchor="middle" fill="#1e1e1e" font-weight="normal" textLength="63" lengthAdjust="spacingAndGlyphs">Drawer bottom</text>
<line x1="1047.6" y1="310.5" x2="1084.7" y2="310.5" stroke="#666" stroke-width="1"/>
<line x1="1047.6" y1="422.5" x2="1084.7" y2="422.5" stroke="#666" stroke-width="1"/>
<line x1="1076.5" y1="310.2" x2="1076.5" y2="340.8" stroke="#1e1e1e" stroke-width="1"/>
<line x1="1076.5" y1="392.5" x2="1076.5" y2="422.5" stroke="#1e1e1e" stroke-width="1"/>
<polygon points="1076.50,310.50 1078.40,320.00 1074.60,320.00" fill="#1e1e1e"/>
<polygon points="1076.50,422.50 1074.60,413.00 1078.40,413.00" fill="#1e1e1e"/>
<text x="1082.5" y="367.8" font-size="12" text-anchor="middle" fill="#1e1e1e" font-weight="normal" textLength="32" lengthAdjust="spacingAndGlyphs" transform="rotate(-90 1082.5 367.8)">NL-24</text>
<line x1="924.5" y1="422.5" x2="924.5" y2="449.8" stroke="#666" stroke-width="1"/>
<line x1="1047.5" y1="422.5" x2="1047.5" y2="449.8" stroke="#666" stroke-width="1"/>
<line x1="924.3" y1="443.5" x2="957.2" y2="443.5" stroke="#1e1e1e" stroke-width="1"/>
<line x1="1013.1" y1="443.5" x2="1047.3" y2="443.5" stroke="#1e1e1e" stroke-width="1"/>
<polygon points="924.50,443.50 934.00,441.60 934.00,445.40" fill="#1e1e1e"/>
<polygon points="1047.50,443.50 1038.00,445.40 1038.00,441.60" fill="#1e1e1e"/>
<text x="985.8" y="448.5" font-size="12" text-anchor="middle" fill="#1e1e1e" font-weight="normal" textLength="34.8" lengthAdjust="spacingAndGlyphs">LW-86</text>
</svg>
</body></html>
